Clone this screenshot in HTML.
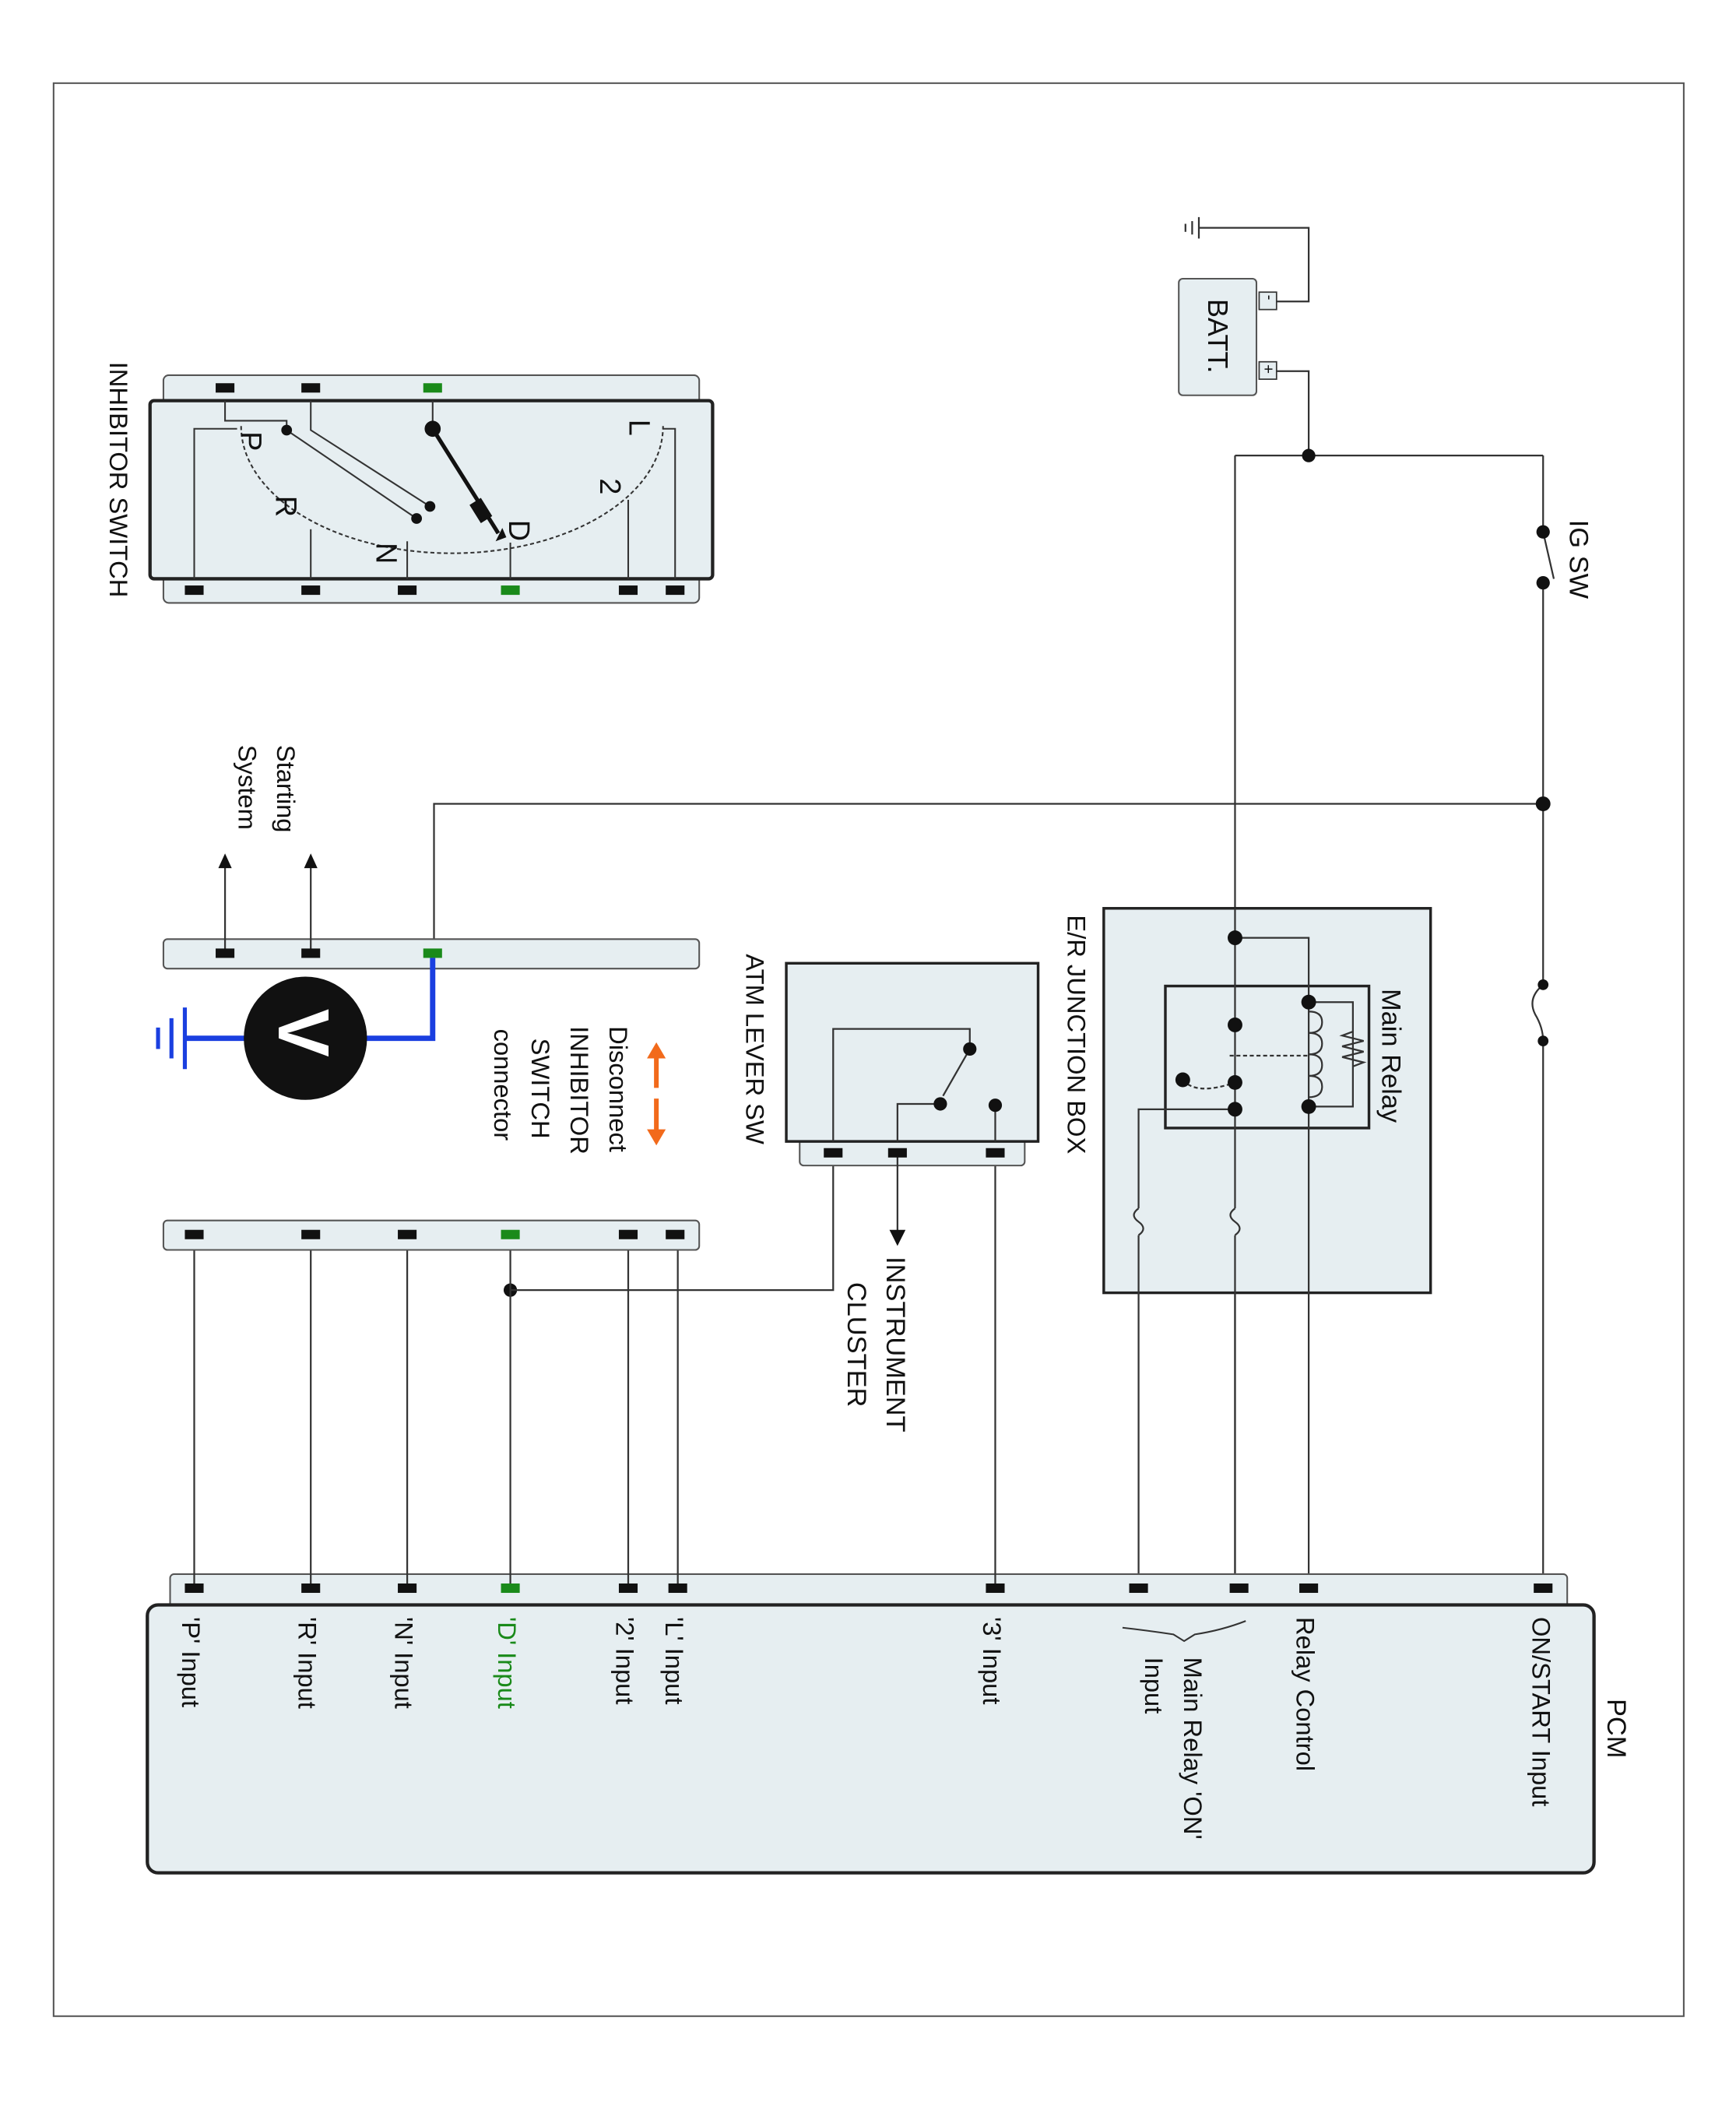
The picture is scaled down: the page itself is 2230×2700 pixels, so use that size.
<!DOCTYPE html>
<html><head><meta charset="utf-8"><style>
html,body{margin:0;padding:0;background:#fff}
svg{display:block}
text{font-family:"Liberation Sans",sans-serif;fill:#111}
</style></head><body>
<svg width="2230" height="2700" viewBox="0 0 1296 1569" xmlns="http://www.w3.org/2000/svg">
<rect x="0" y="0" width="1300" height="1574" fill="#fff"/>
<rect x="40" y="62" width="1217" height="1443" fill="none" stroke="#555" stroke-width="1.2"/>
<g stroke="#333" stroke-width="1.3" fill="none">
<polyline points="953,225 977,225 977,170 895,170"/>
<line x1="895" y1="162" x2="895" y2="178"/><line x1="890" y1="165" x2="890" y2="175"/><line x1="885" y1="167" x2="885" y2="173"/>
<polyline points="953,277 977,277 977,340"/>
<line x1="922" y1="340" x2="1152" y2="340"/>
<line x1="922" y1="340" x2="922" y2="1186"/>
<line x1="1152" y1="340" x2="1152" y2="397"/>
<line x1="1152" y1="397" x2="1160" y2="432"/>
<line x1="1152" y1="435" x2="1152" y2="735"/>
<path d="M1152,735 q-12,10 -6,22 q6,10 6,20"/>
<line x1="1152" y1="777" x2="1152" y2="1186"/>
<polyline points="1152,600 324,600 324,712"/>
</g>
<rect x="824" y="678" width="244" height="287" fill="#e6eef1" stroke="#222" stroke-width="2"/>
<rect x="870" y="736" width="152" height="106" fill="#e6eef1" stroke="#222" stroke-width="2"/>
<g stroke="#333" stroke-width="1.3" fill="none">
<line x1="922" y1="678" x2="922" y2="902"/>
<line x1="922" y1="922" x2="922" y2="965"/>
<polyline points="922,700 977,700 977,736"/>
<line x1="977" y1="736" x2="977" y2="1186"/>
<polyline points="977,748 1010,748 1010,826 977,826"/>
<path d="M977,755 q10,0 10,8 q0,8 -10,8 q10,0 10,8 q0,8 -10,8 q10,0 10,8 q0,8 -10,8 q10,0 10,8 q0,8 -10,8"/>
<path d="M1010,770 l-8,3 l16,4 l-16,4 l16,4 l-16,4 l16,4 l-8,3"/>
<line x1="918" y1="788" x2="977" y2="788" stroke-dasharray="3,2"/>
<path d="M883,806 q10,12 39,2" stroke-dasharray="3,2"/>
<polyline points="922,828 850,828 850,902"/>
<line x1="850" y1="922" x2="850" y2="965"/>
<path d="M922,902 q-7,5 0,10 q7,5 0,10"/>
<path d="M850,902 q-7,5 0,10 q7,5 0,10"/>
<line x1="922" y1="965" x2="922" y2="1186"/>
<line x1="850" y1="965" x2="850" y2="1186"/>
</g>
<g fill="#111">
<circle cx="977" cy="340" r="5"/><circle cx="1152" cy="397" r="5"/><circle cx="1152" cy="435" r="5"/>
<circle cx="1152" cy="600" r="5.5"/><circle cx="1152" cy="735" r="4"/><circle cx="1152" cy="777" r="4"/>
<circle cx="922" cy="700" r="5.5"/><circle cx="977" cy="748" r="5.5"/><circle cx="922" cy="765" r="5.5"/>
<circle cx="922" cy="808" r="5.5"/><circle cx="922" cy="828" r="5.5"/><circle cx="977" cy="826" r="5.5"/>
<circle cx="883" cy="806" r="5.5"/><circle cx="381" cy="963" r="5"/>
</g>
<rect x="880" y="208" width="58" height="87" rx="3" fill="#e6eef1" stroke="#555" stroke-width="1.2"/>
<rect x="940" y="218" width="13" height="13" fill="#e6eef1" stroke="#333"/>
<rect x="940" y="270" width="13" height="13" fill="#e6eef1" stroke="#333"/>
<text transform="translate(944,220) rotate(90)" font-size="12">-</text>
<text transform="translate(943,272) rotate(90)" font-size="12">+</text>
<text transform="translate(902,223) rotate(90)" font-size="21">BATT.</text>
<text transform="translate(1172,388) rotate(90)" font-size="20">IG SW</text>
<text transform="translate(1032,738) rotate(90)" font-size="20">Main Relay</text>
<text transform="translate(797,683) rotate(90)" font-size="19">E/R JUNCTION BOX</text>
<rect x="127" y="1175" width="1043" height="25" rx="3" fill="#e6eef1" stroke="#555" stroke-width="1.2"/>
<rect x="110" y="1198" width="1080" height="200" rx="8" fill="#e6eef1" stroke="#222" stroke-width="2.5"/>
<g stroke="#333" stroke-width="1.3">
<line x1="145" y1="922" x2="145" y2="1186"/><line x1="232" y1="922" x2="232" y2="1186"/>
<line x1="304" y1="922" x2="304" y2="1186"/><line x1="381" y1="922" x2="381" y2="1186"/>
<line x1="469" y1="922" x2="469" y2="1186"/><line x1="506" y1="922" x2="506" y2="1186"/>
<line x1="743" y1="860" x2="743" y2="1186"/>
<polyline points="381,963 622,963 622,860" fill="none"/>
</g>
<g fill="#111">
<rect x="138" y="1182" width="14" height="7"/><rect x="225" y="1182" width="14" height="7"/>
<rect x="297" y="1182" width="14" height="7"/><rect x="374" y="1182" width="14" height="7" fill="#1a8a1a"/>
<rect x="462" y="1182" width="14" height="7"/><rect x="499" y="1182" width="14" height="7"/>
<rect x="736" y="1182" width="14" height="7"/><rect x="843" y="1182" width="14" height="7"/>
<rect x="918" y="1182" width="14" height="7"/><rect x="970" y="1182" width="14" height="7"/>
<rect x="1145" y="1182" width="14" height="7"/>
</g>
<text transform="translate(1200,1268) rotate(90)" font-size="20">PCM</text>
<text transform="translate(1144,1207) rotate(90)" font-size="19">ON/START Input</text>
<text transform="translate(968,1207) rotate(90)" font-size="19">Relay Control</text>
<text transform="translate(884,1237) rotate(90)" font-size="19">Main Relay 'ON'</text>
<text transform="translate(855,1237) rotate(90)" font-size="19">Input</text>
<path d="M838,1215 q18,2 38,5 l8,5 l8,-5 q20,-3 38,-10" fill="none" stroke="#333" stroke-width="1.2"/>
<text transform="translate(734,1207) rotate(90)" font-size="19">'3' Input</text>
<text transform="translate(497,1207) rotate(90)" font-size="19">'L' Input</text>
<text transform="translate(460,1207) rotate(90)" font-size="19">'2' Input</text>
<text transform="translate(372,1207) rotate(90)" font-size="19" style="fill:#1a8a1a">'D' Input</text>
<text transform="translate(295,1207) rotate(90)" font-size="19">'N' Input</text>
<text transform="translate(223,1207) rotate(90)" font-size="19">'R' Input</text>
<text transform="translate(136,1207) rotate(90)" font-size="19">'P' Input</text>
<rect x="597" y="850" width="168" height="20" rx="3" fill="#e6eef1" stroke="#555" stroke-width="1.2"/>
<rect x="587" y="719" width="188" height="133" fill="#e6eef1" stroke="#222" stroke-width="2"/>
<g stroke="#333" stroke-width="1.3" fill="none">
<polyline points="622,852 622,768 724,768 724,783"/>
<polyline points="670,852 670,824 702,824"/>
<line x1="724" y1="783" x2="704" y2="818"/>
<line x1="743" y1="825" x2="743" y2="852"/>
<line x1="670" y1="860" x2="670" y2="922"/>
</g>
<path d="M664,918 l6,12 l6,-12z" fill="#111"/>
<g fill="#111"><circle cx="724" cy="783" r="5"/><circle cx="702" cy="824" r="5"/><circle cx="743" cy="825" r="5"/>
<rect x="615" y="857" width="14" height="7"/><rect x="663" y="857" width="14" height="7"/><rect x="736" y="857" width="14" height="7"/></g>
<text transform="translate(557,712) rotate(90)" font-size="19">ATM LEVER SW</text>
<text transform="translate(662,938) rotate(90)" font-size="20">INSTRUMENT</text>
<text transform="translate(633,957) rotate(90)" font-size="20">CLUSTER</text>
<rect x="122" y="911" width="400" height="22" rx="3" fill="#e6eef1" stroke="#555" stroke-width="1.2"/>
<g fill="#111"><rect x="138" y="918" width="14" height="7"/><rect x="225" y="918" width="14" height="7"/>
<rect x="297" y="918" width="14" height="7"/><rect x="374" y="918" width="14" height="7" fill="#1a8a1a"/>
<rect x="462" y="918" width="14" height="7"/><rect x="497" y="918" width="14" height="7"/></g>
<rect x="122" y="701" width="400" height="22" rx="3" fill="#e6eef1" stroke="#555" stroke-width="1.2"/>
<g stroke="#333" stroke-width="1.3"><line x1="168" y1="712" x2="168" y2="645"/><line x1="232" y1="712" x2="232" y2="645"/></g>
<path d="M163,648 l5,-11 l5,11z M227,648 l5,-11 l5,11z" fill="#111"/>
<g fill="#111"><rect x="161" y="708" width="14" height="7"/><rect x="225" y="708" width="14" height="7"/><rect x="316" y="708" width="14" height="7" fill="#1a8a1a"/></g>
<text transform="translate(207,556) rotate(90)" font-size="19">Starting</text>
<text transform="translate(178,556) rotate(90)" font-size="19">System</text>
<polyline points="323,715 323,775 270,775" fill="none" stroke="#1a3fe0" stroke-width="4"/>
<polyline points="186,775 138,775" fill="none" stroke="#1a3fe0" stroke-width="4"/>
<g stroke="#1a3fe0" stroke-width="3"><line x1="138" y1="752" x2="138" y2="798"/><line x1="128" y1="760" x2="128" y2="790"/><line x1="118" y1="767" x2="118" y2="783"/></g>
<circle cx="228" cy="775" r="46" fill="#111"/>
<text transform="translate(208,753) rotate(90)" font-size="54" font-weight="bold" style="fill:#fff">V</text>
<g stroke="#f26a1b" stroke-width="3.5"><line x1="490" y1="787" x2="490" y2="812"/><line x1="490" y1="820" x2="490" y2="846"/></g>
<path d="M483,790 l7,-12 l7,12z M483,843 l7,12 l7,-12z" fill="#f26a1b"/>
<text transform="translate(455,766) rotate(90)" font-size="19">Disconnect</text>
<text transform="translate(426,766) rotate(90)" font-size="19">INHIBITOR</text>
<text transform="translate(397,775) rotate(90)" font-size="19">SWITCH</text>
<text transform="translate(369,768) rotate(90)" font-size="19">connector</text>
<rect x="122" y="280" width="400" height="170" rx="4" fill="#e6eef1" stroke="#555" stroke-width="1.2"/>
<rect x="112" y="299" width="420" height="133" rx="3" fill="#e6eef1" stroke="#222" stroke-width="2.5"/>
<g stroke="#333" stroke-width="1.2" fill="none">
<polyline points="145,432 145,320 177,320"/>
<polyline points="232,432 232,395"/>
<polyline points="304,432 304,404"/>
<polyline points="381,432 381,405"/>
<polyline points="469,432 469,373"/>
<polyline points="504,432 504,320 495,320"/>
<path d="M180,318 A146,88 0 0 0 495,318" stroke-dasharray="3,2"/>
<polyline points="168,299 168,314 214,314 214,321"/>
<line x1="214" y1="321" x2="311" y2="387"/>
<polyline points="232,299 232,321 321,378"/>
<line x1="323" y1="299" x2="323" y2="320"/>
</g>
<line x1="323" y1="320" x2="372" y2="398" stroke="#111" stroke-width="3"/>
<rect x="354" y="373" width="10" height="16" transform="rotate(-32 359 381)" fill="#111"/>
<path d="M370,404 l8,-3 l-3,-7z" fill="#111"/>
<g fill="#111"><circle cx="214" cy="321" r="4"/><circle cx="311" cy="387" r="4"/><circle cx="321" cy="378" r="4"/><circle cx="323" cy="320" r="6"/>
<rect x="161" y="286" width="14" height="7"/><rect x="225" y="286" width="14" height="7"/><rect x="316" y="286" width="14" height="7" fill="#1a8a1a"/>
<rect x="138" y="437" width="14" height="7"/><rect x="225" y="437" width="14" height="7"/><rect x="297" y="437" width="14" height="7"/>
<rect x="374" y="437" width="14" height="7" fill="#1a8a1a"/><rect x="462" y="437" width="14" height="7"/><rect x="497" y="437" width="14" height="7"/></g>
<text transform="translate(180,322) rotate(90)" font-size="22">P</text>
<text transform="translate(206,370) rotate(90)" font-size="22">R</text>
<text transform="translate(281,405) rotate(90)" font-size="22">N</text>
<text transform="translate(380,388) rotate(90)" font-size="22">D</text>
<text transform="translate(448,357) rotate(90)" font-size="22">2</text>
<text transform="translate(470,313) rotate(90)" font-size="22">L</text>
<text transform="translate(82,270) rotate(90)" font-size="19">INHIBITOR SWITCH</text>
</svg>
</body></html>
